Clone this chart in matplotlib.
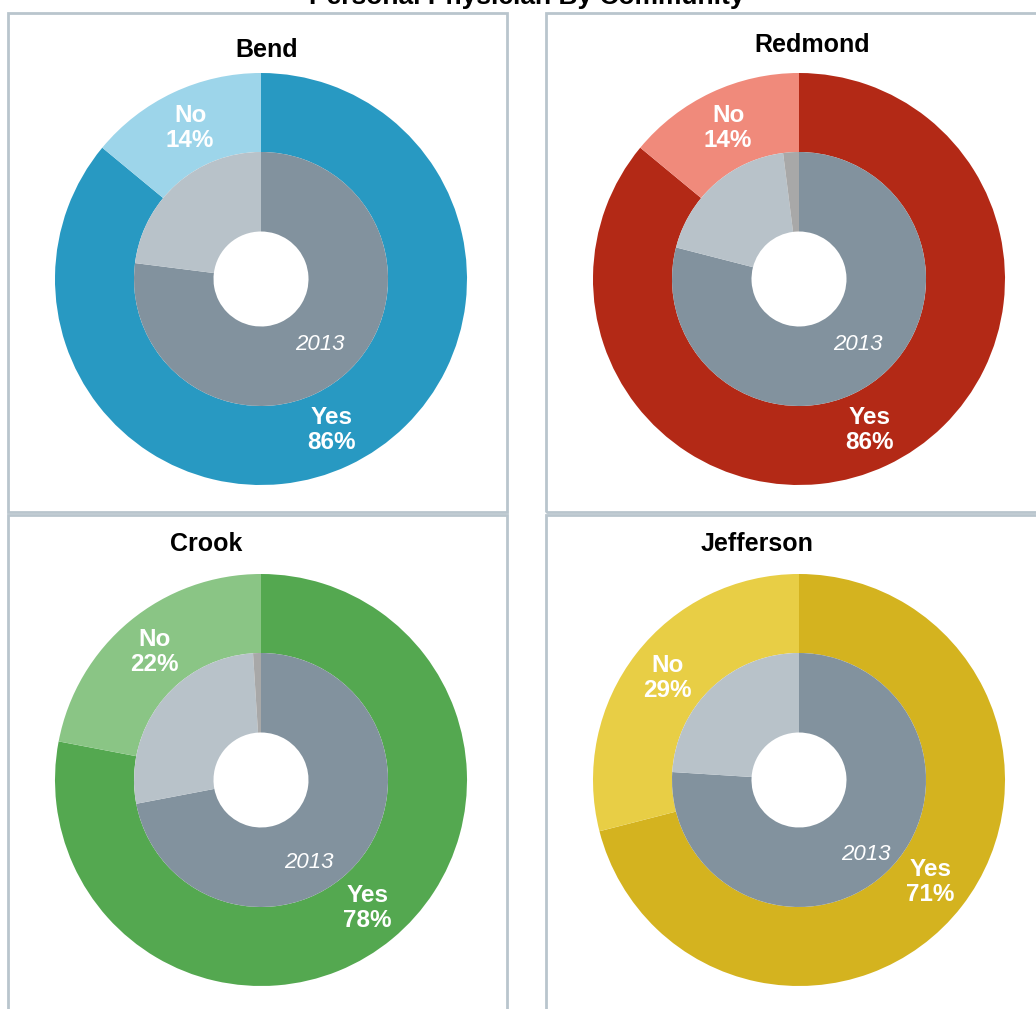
import numpy as np
import matplotlib
matplotlib.use("Agg")
import matplotlib.pyplot as plt
from matplotlib.patches import Rectangle

plt.rcParams['font.family'] = ['Liberation Sans', 'DejaVu Sans']

# data
communities = ['Bend', 'Redmond', 'Crook', 'Jefferson']
outer_yes = [86, 86, 78, 71]
outer_no = [14, 14, 22, 29]
# inner ring = 2013 survey (yes / no / don't know)
inner_yes = [77, 79, 72, 76]
inner_no = [23, 19, 27, 24]
inner_dk = [0, 2, 1, 0]
inner_year = '2013'

dark_colors = ['#2899C2', '#B32916', '#54A850', '#D4B31F']
light_colors = ['#9DD5EA', '#F08A7B', '#8AC585', '#E8CE45']
inner_colors = ['#82929E', '#B8C2C9', '#A8A8A8']

W, H = 1036, 1009
fig = plt.figure(figsize=(W / 100, H / 100), dpi=100)
ax = fig.add_axes([0, 0, 1, 1])

# layout in image pixels (y down), converted below
centers = [(261, 279), (799, 279), (261, 780), (799, 780)]
title_pos = [(267, 50), (812, 45), (206, 544), (757, 544)]
year_pos = [(138, 88), (138, 88), (150, 95), (138, 100)]   # angle clockwise from top, radius
panels = [(8, 13, 507, 512), (546, 13, 1045, 512), (8, 515, 507, 1020), (546, 515, 1045, 1020)]
R_OUT, R_MID, R_HOLE = 206, 127, 47.5


def fy(y):
    return H - y


for i, name in enumerate(communities):
    x0, y0, x1, y1 = panels[i]
    ax.add_patch(Rectangle((x0, fy(y1)), x1 - x0, y1 - y0, fill=False,
                           edgecolor='#B9C5CD', linewidth=2, clip_on=False))
    cx, cy = centers[i][0], fy(centers[i][1])

    ax.pie([outer_yes[i], outer_no[i]], colors=[dark_colors[i], light_colors[i]],
           startangle=90, counterclock=False, radius=R_OUT, center=(cx, cy),
           frame=True, wedgeprops=dict(width=R_OUT - R_MID, linewidth=0))
    ax.pie([inner_yes[i], inner_no[i], inner_dk[i]], colors=inner_colors,
           startangle=90, counterclock=False, radius=R_MID, center=(cx, cy),
           frame=True, wedgeprops=dict(width=R_MID - R_HOLE, linewidth=0))

    # outer labels at mid of each slice
    r_lab = (R_OUT + R_MID) / 2
    tot = outer_yes[i] + outer_no[i]
    mid_yes = 360 * outer_yes[i] / tot / 2
    mid_no = 360 * (outer_yes[i] + outer_no[i] / 2) / tot
    for lab, val, ang in [('Yes', outer_yes[i], mid_yes), ('No', outer_no[i], mid_no)]:
        a = np.radians(ang)
        ax.text(cx + r_lab * np.sin(a), cy + r_lab * np.cos(a), f'{lab}\n{val}%',
                ha='center', va='center', color='white', fontsize=17.5,
                fontweight='bold', linespacing=1.12)

    ang, rr = year_pos[i]
    a = np.radians(ang)
    ax.text(cx + rr * np.sin(a), cy + rr * np.cos(a), inner_year, ha='center',
            va='center', color='white', fontsize=16, style='italic')

    ax.text(title_pos[i][0], fy(title_pos[i][1]), name, ha='center', va='center',
            fontsize=18, fontweight='bold', color='black')

ax.text(527, fy(4), 'Personal Physician By Community', ha='center', va='baseline',
        fontsize=19, fontweight='bold', color='black', clip_on=False)

ax.set_xlim(0, W)
ax.set_ylim(0, H)
ax.set_aspect('equal')
ax.axis('off')

fig.savefig('out.png', dpi=100)
